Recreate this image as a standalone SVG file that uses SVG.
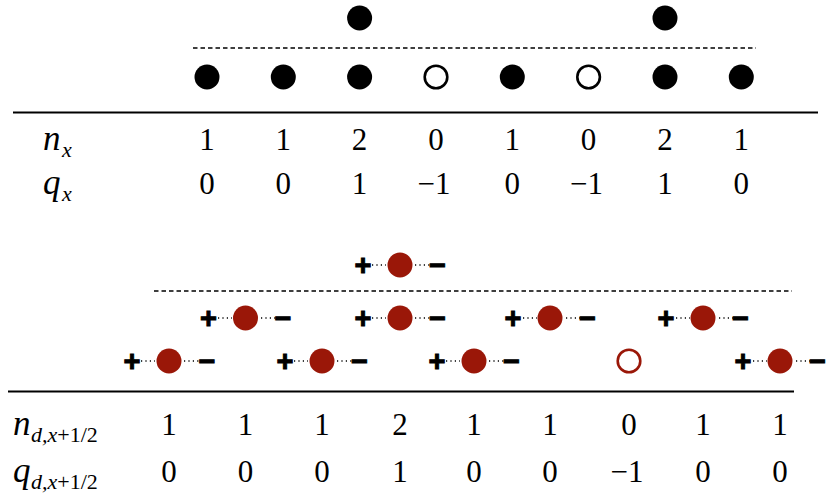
<svg xmlns="http://www.w3.org/2000/svg" width="831" height="494" viewBox="0 0 831 494">
<style>
text{font-family:'Liberation Serif','Times New Roman',Times,serif}
.num{font-size:31px;text-anchor:middle;fill:#000}
.lab{font-size:35px;font-style:italic;fill:#000}
.sub{font-size:22px}
.up{font-style:normal}
.bk{fill:#000}
.op{fill:#fff;stroke:#000;stroke-width:2.6}
.rd{fill:#9a1708}
.rop{fill:#fff;stroke:#9a1708;stroke-width:2.6}
.pm{font-family:'Liberation Sans',Arial,sans-serif;font-size:29px;font-weight:bold;text-anchor:middle;fill:#000;stroke:#000;stroke-width:1}
.dash{stroke:#000;stroke-width:1.5;stroke-dasharray:4.5 3;fill:none}
.rule{stroke:#000;stroke-width:2;fill:none}
.dot{stroke:#000;stroke-width:1.5;stroke-dasharray:1.2 3.2;fill:none}
</style>
<rect width="831" height="494" fill="#fff"/>
<line class="dash" x1="193" y1="48" x2="756" y2="48"/>
<line class="rule" x1="13" y1="112.5" x2="818" y2="112.5"/>
<g id="top-particles">
<circle id="p0" class="bk" cx="207" cy="77" r="12.5"/>
<circle id="p1" class="bk" cx="283.3" cy="77" r="12.5"/>
<circle id="p2" class="bk" cx="359.6" cy="77" r="12.5"/>
<circle id="p2b" class="bk" cx="359.6" cy="18" r="12.5"/>
<circle id="p3" class="op" cx="436" cy="77" r="11.3"/>
<circle id="p4" class="bk" cx="512.3" cy="77" r="12.5"/>
<circle id="p5" class="op" cx="588.6" cy="77" r="11.3"/>
<circle id="p6" class="bk" cx="665" cy="77" r="12.5"/>
<circle id="p6b" class="bk" cx="665" cy="18" r="12.5"/>
<circle id="p7" class="bk" cx="741.3" cy="77" r="12.5"/>
</g>
<g id="top-labels">
<text class="lab" x="43" y="150">n<tspan class="sub" x="62" y="157">x</tspan></text>
<text class="lab" x="43" y="194">q<tspan class="sub" x="62" y="201">x</tspan></text>
<g class="num">
<text x="207" y="150">1</text><text x="283.3" y="150">1</text><text x="359.6" y="150">2</text><text x="436" y="150">0</text>
<text x="512.3" y="150">1</text><text x="588.6" y="150">0</text><text x="665" y="150">2</text><text x="741.3" y="150">1</text>
<text x="207" y="194">0</text><text x="283.3" y="194">0</text><text x="359.6" y="194">1</text><text x="434" y="194">−1</text>
<text x="512.3" y="194">0</text><text x="586.6" y="194">−1</text><text x="665" y="194">1</text><text x="741.3" y="194">0</text>
</g>
</g>
<line class="dash" x1="154" y1="291" x2="792" y2="291"/>
<line class="rule" x1="8" y1="391.5" x2="794" y2="391.5"/>
<g id="connectors">
<path class="dot" d="M141 361H155M184 361H199 M294 361H308M337 361H352 M446 361H460M489 361H504 M753 361H767M796 361H811 M218 318H232M261 318H276 M372 318H386M415 318H430 M523 318H537M566 318H581 M676 318H690M719 318H734 M372 265H386M415 265H430"/>
</g>
<g id="dipoles">
<g id="d0"><text class="pm" x="132" y="371">+</text><circle class="rd" cx="169" cy="361" r="12.5"/><text class="pm" x="207" y="371">−</text></g>
<g id="d1"><text class="pm" x="208.5" y="328">+</text><circle class="rd" cx="245.5" cy="318" r="12.5"/><text class="pm" x="283" y="328">−</text></g>
<g id="d2"><text class="pm" x="285" y="371">+</text><circle class="rd" cx="322" cy="361" r="12.5"/><text class="pm" x="359.5" y="371">−</text></g>
<g id="d3a"><text class="pm" x="363" y="328">+</text><circle class="rd" cx="400" cy="318" r="12.5"/><text class="pm" x="437.5" y="328">−</text></g>
<g id="d3b"><text class="pm" x="363" y="275">+</text><circle class="rd" cx="400" cy="265" r="12.5"/><text class="pm" x="437.5" y="275">−</text></g>
<g id="d4"><text class="pm" x="437" y="371">+</text><circle class="rd" cx="474" cy="361" r="12.5"/><text class="pm" x="511.5" y="371">−</text></g>
<g id="d5"><text class="pm" x="513" y="328">+</text><circle class="rd" cx="550" cy="318" r="12.5"/><text class="pm" x="587.5" y="328">−</text></g>
<g id="d6"><circle class="rop" cx="629" cy="361" r="11.3"/></g>
<g id="d7"><text class="pm" x="666" y="328">+</text><circle class="rd" cx="703" cy="318" r="12.5"/><text class="pm" x="740.5" y="328">−</text></g>
<g id="d8"><text class="pm" x="743" y="371">+</text><circle class="rd" cx="780" cy="361" r="12.5"/><text class="pm" x="817.5" y="371">−</text></g>
</g>
<g id="bottom-labels">
<text class="lab" x="13" y="435">n<tspan class="sub" x="31" y="442">d,x</tspan><tspan class="sub up">+1/2</tspan></text>
<text class="lab" x="13" y="482">q<tspan class="sub" x="31" y="489">d,x</tspan><tspan class="sub up">+1/2</tspan></text>
<g class="num">
<text x="169" y="435">1</text><text x="245.5" y="435">1</text><text x="322" y="435">1</text><text x="400" y="435">2</text><text x="474" y="435">1</text>
<text x="550" y="435">1</text><text x="629" y="435">0</text><text x="703" y="435">1</text><text x="780" y="435">1</text>
<text x="169" y="482">0</text><text x="245.5" y="482">0</text><text x="322" y="482">0</text><text x="400" y="482">1</text><text x="474" y="482">0</text>
<text x="550" y="482">0</text><text x="627" y="482">−1</text><text x="703" y="482">0</text><text x="780" y="482">0</text>
</g>
</g>
</svg>
